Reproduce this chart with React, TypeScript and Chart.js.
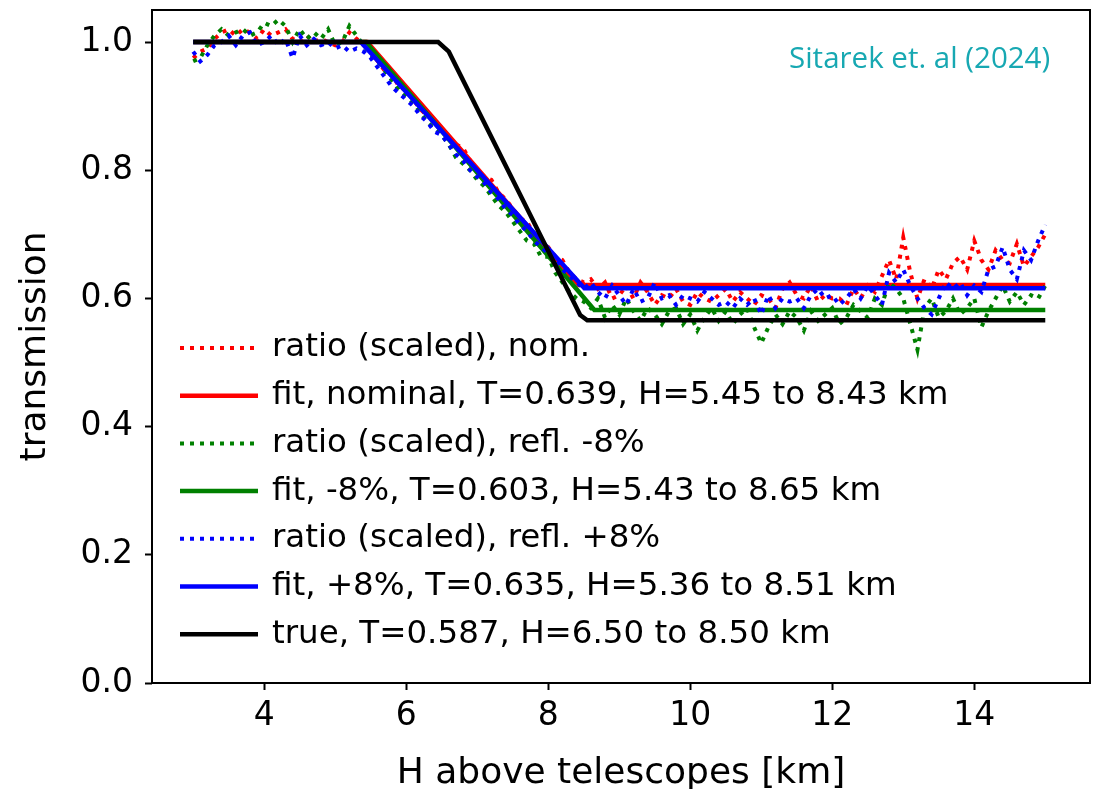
import React, { useEffect, useRef } from 'react';
import { Chart, registerables } from 'chart.js';
Chart.register(...registerables);

const H = [
  3.0, 3.1, 3.2, 3.3, 3.4, 3.5, 3.6, 3.7, 3.8, 3.9,
  4.0, 4.1, 4.2, 4.3, 4.4, 4.5, 4.6, 4.7, 4.8, 4.9,
  5.0, 5.1, 5.2, 5.3, 5.4, 5.5, 5.6, 5.7, 5.8, 5.9,
  6.0, 6.1, 6.2, 6.3, 6.4, 6.5, 6.6, 6.7, 6.8, 6.9,
  7.0, 7.1, 7.2, 7.3, 7.4, 7.5, 7.6, 7.7, 7.8, 7.9,
  8.0, 8.1, 8.2, 8.3, 8.4, 8.5, 8.6, 8.7, 8.8, 8.9,
  9.0, 9.1, 9.2, 9.3, 9.4, 9.5, 9.6, 9.7, 9.8, 9.9,
  10.0, 10.1, 10.2, 10.3, 10.4, 10.5, 10.6, 10.7, 10.8, 10.9,
  11.0, 11.1, 11.2, 11.3, 11.4, 11.5, 11.6, 11.7, 11.8, 11.9,
  12.0, 12.1, 12.2, 12.3, 12.4, 12.5, 12.6, 12.7, 12.8, 12.9,
  13.0, 13.1, 13.2, 13.3, 13.4, 13.5, 13.6, 13.7, 13.8, 13.9,
  14.0, 14.1, 14.2, 14.3, 14.4, 14.5, 14.6, 14.7, 14.8, 14.9,
  15.0,
];

const ratioNom = [
  0.975, 0.985, 0.99, 1.005, 1.015, 1.02, 1.01, 1.02, 1.015, 1.005,
  1.02, 1.01, 1.015, 1.02, 1.005, 1.0, 1.01, 1.0, 1.005, 1.0,
  0.995, 1.0, 1.015, 1.005, 0.995, 0.985, 0.97, 0.955, 0.95, 0.93,
  0.925, 0.91, 0.895, 0.885, 0.88, 0.865, 0.85, 0.84, 0.835, 0.815,
  0.8, 0.79, 0.785, 0.765, 0.755, 0.74, 0.725, 0.72, 0.7, 0.69,
  0.68, 0.665, 0.66, 0.64, 0.63, 0.625, 0.63, 0.615, 0.625, 0.6,
  0.605, 0.62, 0.6, 0.625, 0.61, 0.59, 0.605, 0.6, 0.615, 0.595,
  0.59, 0.61, 0.6, 0.595, 0.605, 0.615, 0.595, 0.61, 0.6, 0.59,
  0.605, 0.6, 0.585, 0.615, 0.625, 0.605, 0.6, 0.62, 0.595, 0.605,
  0.6, 0.6, 0.59, 0.615, 0.6, 0.62, 0.61, 0.635, 0.66, 0.63,
  0.695, 0.64, 0.6, 0.63, 0.615, 0.645, 0.63, 0.655, 0.665, 0.645,
  0.69, 0.66, 0.645, 0.675, 0.66, 0.655, 0.685, 0.65, 0.665, 0.68,
  0.7,
];

const ratioMinus = [
  0.97, 0.975, 0.995, 1.01, 1.02, 1.01, 1.015, 1.02, 1.01, 1.015,
  1.03, 1.025, 1.035, 1.025, 1.0, 1.02, 1.005, 1.015, 1.005, 1.02,
  0.995, 1.0, 1.025, 1.01, 0.995, 0.98, 0.97, 0.955, 0.94, 0.925,
  0.915, 0.905, 0.89, 0.875, 0.865, 0.855, 0.84, 0.82, 0.81, 0.8,
  0.785, 0.775, 0.76, 0.745, 0.735, 0.72, 0.705, 0.69, 0.685, 0.665,
  0.665, 0.64, 0.625, 0.61, 0.6, 0.595, 0.585, 0.6, 0.57, 0.59,
  0.575, 0.6, 0.58, 0.565, 0.585, 0.575, 0.56, 0.58, 0.585, 0.56,
  0.575, 0.55, 0.57, 0.585, 0.565, 0.58, 0.56, 0.575, 0.585, 0.555,
  0.53, 0.555, 0.575, 0.56, 0.58, 0.57, 0.55, 0.58, 0.565, 0.575,
  0.585, 0.56, 0.57, 0.59, 0.58, 0.57, 0.6, 0.59, 0.625, 0.615,
  0.6, 0.56, 0.52, 0.585, 0.6, 0.57, 0.58, 0.6, 0.575, 0.585,
  0.6, 0.555, 0.58, 0.6, 0.62, 0.595, 0.61, 0.59, 0.605, 0.6,
  0.62,
];

const ratioPlus = [
  0.985, 0.97, 0.98, 0.995, 1.0, 1.01, 0.995, 1.01, 1.015, 0.995,
  1.0, 1.01, 0.995, 1.005, 0.975, 1.01, 0.995, 1.005, 0.995, 1.0,
  0.99, 0.995, 0.985, 0.99, 0.985, 0.975, 0.96, 0.945, 0.93, 0.92,
  0.91, 0.9, 0.885, 0.875, 0.86, 0.855, 0.84, 0.825, 0.815, 0.8,
  0.79, 0.78, 0.765, 0.755, 0.74, 0.73, 0.715, 0.705, 0.69, 0.68,
  0.67, 0.665, 0.645, 0.635, 0.625, 0.615, 0.625, 0.61, 0.6, 0.62,
  0.605, 0.59, 0.615, 0.595, 0.6, 0.625, 0.6, 0.605, 0.59, 0.605,
  0.6, 0.595, 0.61, 0.6, 0.59, 0.595, 0.585, 0.6, 0.59, 0.6,
  0.575, 0.605, 0.585, 0.6, 0.595, 0.6, 0.585, 0.605, 0.615, 0.6,
  0.605, 0.59, 0.6, 0.615, 0.6, 0.62, 0.605, 0.59, 0.64, 0.625,
  0.645, 0.62, 0.6, 0.585, 0.575, 0.6, 0.625, 0.615, 0.625, 0.605,
  0.62, 0.61, 0.645, 0.65, 0.68, 0.645, 0.63, 0.675, 0.66, 0.69,
  0.715,
];

const fitNomX = [3.0, 5.45, 8.43, 15.0];
const fitNomY = [1.0, 1.0, 0.621, 0.621];
const fitMinusX = [3.0, 5.43, 8.65, 15.0];
const fitMinusY = [1.0, 1.0, 0.582, 0.582];
const fitPlusX = [3.0, 5.36, 8.51, 15.0];
const fitPlusY = [1.0, 1.0, 0.616, 0.616];
const trueX = [3.0, 6.45, 6.6, 8.45, 8.55, 15.0];
const trueY = [1.0, 1.0, 0.985, 0.574, 0.566, 0.566];

const xTicks = [4, 6, 8, 10, 12, 14];
const yTicks = [0.0, 0.2, 0.4, 0.6, 0.8, 1.0];

const legendLabels = [
  'ratio (scaled), nom.',
  'fit, nominal, T=0.639, H=5.45 to 8.43 km',
  'ratio (scaled), refl. -8%',
  'fit, -8%, T=0.603, H=5.43 to 8.65 km',
  'ratio (scaled), refl. +8%',
  'fit, +8%, T=0.635, H=5.36 to 8.51 km',
  'true, T=0.587, H=6.50 to 8.50 km',
];

const FONT = '"DejaVu Sans", sans-serif';
const DOT_DASH = [4, 6];

function pts(xs: number[], ys: number[]) {
  return xs.map((x, i) => ({ x, y: ys[i] }));
}

export default function App() {
  const ref = useRef<HTMLCanvasElement | null>(null);
  useEffect(() => {
    document.body.style.margin = '0';
    const canvas = ref.current!;
    const dotted = (label: string, data: any, color: string, order: number) => ({
      label, data, borderColor: color, borderWidth: 4, borderDash: DOT_DASH,
      borderCapStyle: 'butt', pointRadius: 0, tension: 0, fill: false, order,
    });
    const solid = (label: string, data: any, color: string, order: number) => ({
      label, data, borderColor: color, borderWidth: 4.5,
      pointRadius: 0, tension: 0, fill: false, order,
    });
    const datasets: any[] = [
      dotted(legendLabels[0], pts(H, ratioNom), '#ff0000', 7),
      solid(legendLabels[1], pts(fitNomX, fitNomY), '#ff0000', 6),
      dotted(legendLabels[2], pts(H, ratioMinus), '#008000', 5),
      solid(legendLabels[3], pts(fitMinusX, fitMinusY), '#008000', 4),
      dotted(legendLabels[4], pts(H, ratioPlus), '#0000ff', 3),
      solid(legendLabels[5], pts(fitPlusX, fitPlusY), '#0000ff', 2),
      solid(legendLabels[6], pts(trueX, trueY), '#000000', 1),
    ];
    const overlay = {
      id: 'overlay',
      afterDraw(chart: any) {
        const ctx = chart.ctx;
        const a = chart.chartArea;
        ctx.save();
        ctx.strokeStyle = '#000';
        ctx.lineWidth = 2;
        ctx.setLineDash([]);
        ctx.strokeRect(a.left, a.top, a.right - a.left, a.bottom - a.top);
        // legend
        const x0 = 180, x1 = 258, tx = 272, y0 = 348, dy = 47.7;
        datasets.forEach((d, i) => {
          const y = y0 + i * dy;
          ctx.beginPath();
          ctx.strokeStyle = d.borderColor;
          ctx.lineWidth = d.borderWidth;
          ctx.lineCap = 'butt';
          ctx.setLineDash(d.borderDash ? d.borderDash : []);
          ctx.moveTo(x0, y);
          ctx.lineTo(x1, y);
          ctx.stroke();
          ctx.setLineDash([]);
          ctx.fillStyle = '#000';
          ctx.font = `32.5px ${FONT}`;
          ctx.textAlign = 'left';
          ctx.textBaseline = 'middle';
          ctx.fillText(legendLabels[i], tx, y);
        });
        // annotation
        ctx.fillStyle = '#17a8b2';
        ctx.font = '29.5px "Open Sans", sans-serif';
        ctx.textAlign = 'left';
        ctx.textBaseline = 'middle';
        ctx.fillText('Sitarek et. al (2024)', 789, 60);
        // axis titles
        ctx.fillStyle = '#000';
        ctx.font = `36px ${FONT}`;
        ctx.textAlign = 'center';
        ctx.textBaseline = 'middle';
        ctx.fillText('H above telescopes [km]', (a.left + a.right) / 2, 774);
        ctx.save();
        ctx.translate(36, (a.top + a.bottom) / 2);
        ctx.rotate(-Math.PI / 2);
        ctx.fillText('transmission', 0, 0);
        ctx.restore();
        ctx.restore();
      },
    };
    const chart = new Chart(canvas, {
      type: 'line',
      data: { datasets },
      options: {
        responsive: false,
        animation: false,
        parsing: true,
        layout: { padding: { top: 10, right: 9, left: 0, bottom: 0 } },
        plugins: { legend: { display: false }, tooltip: { enabled: false } },
        scales: {
          x: {
            type: 'linear',
            min: 2.42,
            max: 15.63,
            afterBuildTicks(s: any) { s.ticks = xTicks.map((v) => ({ value: v })); },
            afterFit(s: any) { s.height = 106; s.paddingLeft = 0; s.paddingRight = 0; },
            grid: { drawOnChartArea: false, drawTicks: true, tickLength: 7, tickColor: '#000', tickWidth: 2 },
            border: { display: false },
            ticks: { color: '#000', font: { family: FONT, size: 33 }, padding: 7, maxRotation: 0, callback: (v: any) => String(v) },
          },
          y: {
            type: 'linear',
            min: 0,
            max: 1.05,
            afterBuildTicks(s: any) { s.ticks = yTicks.map((v) => ({ value: v })); },
            afterFit(s: any) { s.width = 152; s.paddingTop = 0; s.paddingBottom = 0; },
            grid: { drawOnChartArea: false, drawTicks: true, tickLength: 7, tickColor: '#000', tickWidth: 2 },
            border: { display: false },
            ticks: { color: '#000', font: { family: FONT, size: 33 }, padding: 12, callback: (v: any) => Number(v).toFixed(1) },
          },
        },
      },
      plugins: [overlay],
    } as any);
    return () => chart.destroy();
  }, []);
  return <canvas ref={ref} width={1099} height={789} style={{ display: 'block' }} />;
}
